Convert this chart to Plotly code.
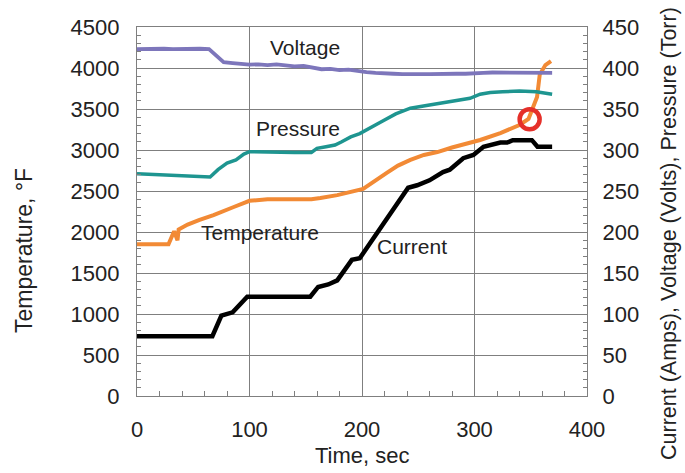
import plotly.graph_objects as go

# ---- data ----
time_v = [0, 8, 16, 24, 32, 40, 48, 56, 64, 70, 77, 85, 92, 100, 108, 116, 124, 132, 140, 148,
          156, 164, 172, 180, 188, 196, 204, 212, 220, 228, 236, 244, 252, 260, 268, 276, 284,
          292, 300, 308, 316, 324, 332, 340, 348, 356, 364, 369]
voltage = [423, 423.5, 423, 423.5, 423, 423.5, 423, 423.5, 423, 415, 407, 406, 405, 404, 404.5,
           403.5, 404.5, 403, 402, 402.5, 400, 398.5, 399, 397.5, 398, 396, 395, 394, 394, 393,
           392.5, 393, 392.5, 392.5, 393, 392.5, 393, 393, 394, 394, 394.5, 394.5, 395, 395,
           395, 395, 394.5, 394]

time_p = [0, 20, 40, 65, 72, 80, 88, 95, 100, 120, 140, 155, 160, 168, 176, 182, 190, 198, 208,
          218, 230, 243, 256, 270, 283, 296, 305, 314, 325, 340, 355, 369]
pressure = [271, 270, 269, 267, 276, 284, 288, 295, 298, 297, 297, 297, 302, 304, 306, 310, 316,
            320, 328, 335, 344, 351, 354, 357, 360, 363, 368, 370, 371, 372, 371, 368]

time_t = [0, 28, 33, 36, 37, 45, 55, 68, 86, 100, 116, 140, 155, 163, 178, 201, 212, 222, 232,
          243, 255, 267, 280, 296, 305, 323, 340, 348, 355.6, 358, 363, 368]
temperature = [1850, 1850, 2010, 1900, 2030, 2090, 2146, 2207, 2305, 2380, 2400, 2400, 2400,
               2415, 2450, 2525, 2620, 2720, 2810, 2880, 2940, 2975, 3030, 3085, 3122, 3207,
               3305, 3378, 3646, 3920, 4036, 4085]

time_c = [0, 67, 75, 80, 85, 98, 154, 161, 170, 178, 191, 198, 241, 249, 260, 272, 278, 290,
          299, 308, 316, 323, 329, 334, 351, 356, 369]
current = [73, 73, 98, 100, 102, 121, 121, 133, 136, 141, 166, 168, 254, 257, 263, 273, 276,
           290, 294, 304, 306, 309, 309, 312, 312, 304, 304]

failure_time = [349]
failure_temp = [3375]

x_ticks = [0, 100, 200, 300, 400]
y_left_ticks = [0, 500, 1000, 1500, 2000, 2500, 3000, 3500, 4000, 4500]
y_right_ticks = [0, 50, 100, 150, 200, 250, 300, 350, 400, 450]

FONT = "Liberation Sans, Arial, sans-serif"
TXT = "#222222"
GRID = "#7f7f7f"

fig = go.Figure()
fig.add_trace(go.Scatter(x=time_v, y=voltage, yaxis="y2", mode="lines",
                         line=dict(color="#7d76bb", width=3.8), showlegend=False))
fig.add_trace(go.Scatter(x=time_p, y=pressure, yaxis="y2", mode="lines",
                         line=dict(color="#1e9590", width=3.5), showlegend=False))
fig.add_trace(go.Scatter(x=time_c, y=current, yaxis="y2", mode="lines",
                         line=dict(color="#000000", width=4.5), showlegend=False))
fig.add_trace(go.Scatter(x=time_t, y=temperature, yaxis="y", mode="lines",
                         line=dict(color="#f28a35", width=4), showlegend=False))
fig.add_trace(go.Scatter(x=failure_time, y=failure_temp, yaxis="y", mode="markers",
                         marker=dict(symbol="circle-open", size=20, color="#e5302a",
                                     line=dict(width=4.5, color="#e5302a")),
                         showlegend=False))

axis_font = dict(family=FONT, size=22, color=TXT)

fig.update_layout(
    width=685, height=473,
    margin=dict(l=137, r=98, t=27, b=77),
    paper_bgcolor="white", plot_bgcolor="white",
    font=dict(family=FONT, color=TXT),
    xaxis=dict(range=[0, 400], tickvals=x_ticks, showgrid=True, gridcolor=GRID, gridwidth=1,
               zeroline=False, showline=True, linecolor=GRID, linewidth=1.2, mirror=True,
               ticks="inside", ticklen=7, tickcolor=GRID,
               minor=dict(dtick=20, ticks="inside", ticklen=5, tickcolor=GRID, showgrid=False),
               tickfont=axis_font, ticklabelstandoff=13),
    yaxis=dict(range=[0, 4500], tickvals=y_left_ticks, showgrid=True, gridcolor=GRID, gridwidth=1,
               zeroline=False, showline=True, linecolor=GRID, linewidth=1.2,
               ticks="inside", ticklen=7, tickcolor=GRID,
               minor=dict(dtick=100, ticks="inside", ticklen=4, tickcolor=GRID, showgrid=False),
               tickfont=axis_font, ticklabelstandoff=12),
    yaxis2=dict(range=[0, 450], tickvals=y_right_ticks, overlaying="y", side="right",
                showgrid=False, zeroline=False, showline=True, linecolor=GRID, linewidth=1.2,
                ticks="inside", ticklen=7, tickcolor=GRID,
                minor=dict(dtick=10, ticks="inside", ticklen=4, tickcolor=GRID, showgrid=False),
                tickfont=axis_font, ticklabelstandoff=10),
)

label_font = dict(family=FONT, size=21, color=TXT)
fig.add_annotation(x=149, y=4256, xref="x", yref="y", text="Voltage", showarrow=False, font=label_font)
fig.add_annotation(x=143, y=3268, xref="x", yref="y", text="Pressure", showarrow=False, font=label_font)
fig.add_annotation(x=109, y=2000, xref="x", yref="y", text="Temperature", showarrow=False, font=label_font)
fig.add_annotation(x=244, y=1829, xref="x", yref="y", text="Current", showarrow=False, font=label_font)

fig.add_annotation(x=362, y=455, xref="paper", yref="paper", text="Time, sec", showarrow=False,
                   font=dict(family=FONT, size=22, color=TXT))
fig.add_annotation(x=24, y=251, xref="paper", yref="paper", text="Temperature, °F", showarrow=False,
                   textangle=-90, font=dict(family=FONT, size=23, color=TXT))
fig.add_annotation(x=669, y=234, xref="paper", yref="paper",
                   text="Current (Amps), Voltage (Volts), Pressure (Torr)", showarrow=False,
                   textangle=-90, font=dict(family=FONT, size=21.5, color=TXT))

# convert pixel-positioned titles to paper coords
pw, ph = 685 - 137 - 98, 473 - 27 - 77
for ann in fig.layout.annotations:
    ann.xanchor = "center"
    ann.yanchor = "middle"
    if ann.xref == "paper":
        ann.x = (ann.x - 137) / pw
        ann.y = (473 - 77 - ann.y) / ph

fig.write_html("out.html")
